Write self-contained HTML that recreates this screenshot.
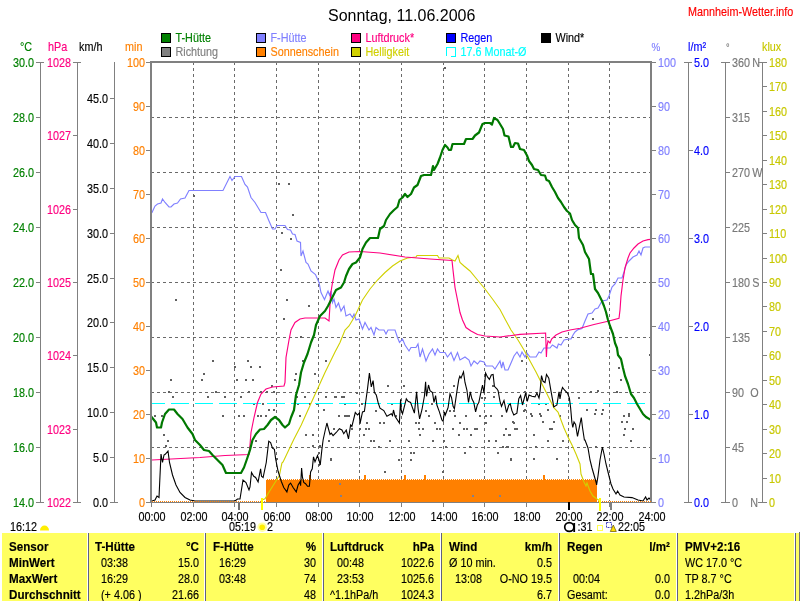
<!DOCTYPE html>
<html><head><meta charset="utf-8"><title>Sonntag, 11.06.2006</title>
<style>
html,body{margin:0;padding:0;background:#fff;}
body{width:800px;height:601px;overflow:hidden;font-family:"Liberation Sans",sans-serif;}
svg{display:block;position:absolute;left:0;top:0}
svg text{font-family:"Liberation Sans",sans-serif;font-size:12px;}
.b,.bx{font-weight:bold}
.ax{stroke:#808080;stroke-width:1;shape-rendering:crispEdges;fill:none}
.gr{stroke:#6a6a6a;stroke-width:1;stroke-dasharray:3 3;shape-rendering:crispEdges;fill:none}
.e{text-anchor:end}.m{text-anchor:middle}
</style></head><body>
<svg width="800" height="601" viewBox="0 0 800 601">
<rect width="800" height="601" fill="#fff"/>
<text transform="translate(328 20.5) scale(1.0 1)" stroke="#000" stroke-width="0" style="font-size:16px" fill="#000">Sonntag, 11.06.2006</text>
<text transform="translate(688 16) scale(0.9 1)" stroke="#f00" stroke-width="0.15" fill="#f00">Mannheim-Wetter.info</text>
<rect x="161.5" y="33.5" width="9" height="9" fill="#008000" stroke="#000" stroke-width="1" shape-rendering="crispEdges"/>
<text transform="translate(175.5 42) scale(0.9 1)" stroke="#008000" stroke-width="0.15" fill="#008000">T-Hütte</text>
<rect x="161.5" y="47.5" width="9" height="9" fill="#808080" stroke="#000" stroke-width="1" shape-rendering="crispEdges"/>
<text transform="translate(175.5 56) scale(0.9 1)" stroke="#808080" stroke-width="0.15" fill="#808080">Richtung</text>
<rect x="256.5" y="33.5" width="9" height="9" fill="#8080ff" stroke="#000" stroke-width="1" shape-rendering="crispEdges"/>
<text transform="translate(270.5 42) scale(0.9 1)" stroke="#8080ff" stroke-width="0.15" fill="#8080ff">F-Hütte</text>
<rect x="256.5" y="47.5" width="9" height="9" fill="#ff8000" stroke="#000" stroke-width="1" shape-rendering="crispEdges"/>
<text transform="translate(270.5 56) scale(0.9 1)" stroke="#ff8000" stroke-width="0.15" fill="#ff8000">Sonnenschein</text>
<rect x="351.5" y="33.5" width="9" height="9" fill="#ff0080" stroke="#000" stroke-width="1" shape-rendering="crispEdges"/>
<text transform="translate(365.5 42) scale(0.9 1)" stroke="#ff0080" stroke-width="0.15" fill="#ff0080">Luftdruck*</text>
<rect x="351.5" y="47.5" width="9" height="9" fill="#d0d000" stroke="#000" stroke-width="1" shape-rendering="crispEdges"/>
<text transform="translate(365.5 56) scale(0.9 1)" stroke="#d0d000" stroke-width="0.15" fill="#d0d000">Helligkeit</text>
<rect x="446.5" y="33.5" width="9" height="9" fill="#0000ff" stroke="#000" stroke-width="1" shape-rendering="crispEdges"/>
<text transform="translate(460.5 42) scale(0.9 1)" stroke="#0000ff" stroke-width="0.15" fill="#0000ff">Regen</text>
<path d="M446.5,56 V47.5 H455.5 V56.5 H451" fill="none" stroke="#00ffff" stroke-width="1" shape-rendering="crispEdges"/>
<text transform="translate(460.5 56) scale(0.9 1)" stroke="#00ffff" stroke-width="0.15" fill="#00ffff">17.6 Monat-Ø</text>
<rect x="541.5" y="33.5" width="9" height="9" fill="#000000" stroke="#000" stroke-width="1" shape-rendering="crispEdges"/>
<text transform="translate(555.5 42) scale(0.9 1)" stroke="#000000" stroke-width="0.15" fill="#000000">Wind*</text>
<text transform="translate(20 51) scale(0.9 1)" stroke="#008000" stroke-width="0.15" fill="#008000">°C</text>
<text transform="translate(48 51) scale(0.9 1)" stroke="#ff0080" stroke-width="0.15" fill="#ff0080">hPa</text>
<text transform="translate(79 51) scale(0.9 1)" stroke="#000" stroke-width="0.15" fill="#000">km/h</text>
<text transform="translate(125 51) scale(0.9 1)" stroke="#ff8000" stroke-width="0.15" fill="#ff8000">min</text>
<text transform="translate(651.5 51) scale(0.9 1)" stroke="#8080ff" stroke-width="0.15" fill="#8080ff" style="font-size:11px">%</text>
<text transform="translate(688 51) scale(0.9 1)" stroke="#0000ff" stroke-width="0.15" fill="#0000ff">l/m²</text>
<text transform="translate(726 51) scale(0.9 1)" stroke="#808080" stroke-width="0.15" fill="#808080" style="font-size:10px">°</text>
<text transform="translate(762 51) scale(0.9 1)" stroke="#c8c800" stroke-width="0.15" fill="#c8c800">klux</text>
<line class="gr" x1="193.5" y1="62" x2="193.5" y2="501"/>
<line class="gr" x1="234.5" y1="62" x2="234.5" y2="501"/>
<line class="gr" x1="276.5" y1="62" x2="276.5" y2="501"/>
<line class="gr" x1="318.5" y1="62" x2="318.5" y2="501"/>
<line class="gr" x1="359.5" y1="62" x2="359.5" y2="501"/>
<line class="gr" x1="401.5" y1="62" x2="401.5" y2="501"/>
<line class="gr" x1="443.5" y1="62" x2="443.5" y2="501"/>
<line class="gr" x1="484.5" y1="62" x2="484.5" y2="501"/>
<line class="gr" x1="526.5" y1="62" x2="526.5" y2="501"/>
<line class="gr" x1="568.5" y1="62" x2="568.5" y2="501"/>
<line class="gr" x1="609.5" y1="62" x2="609.5" y2="501"/>
<line class="gr" x1="151" y1="117.5" x2="651" y2="117.5"/>
<line class="gr" x1="151" y1="172.5" x2="651" y2="172.5"/>
<line class="gr" x1="151" y1="227.5" x2="651" y2="227.5"/>
<line class="gr" x1="151" y1="282.5" x2="651" y2="282.5"/>
<line class="gr" x1="151" y1="337.5" x2="651" y2="337.5"/>
<line class="gr" x1="151" y1="392.5" x2="651" y2="392.5"/>
<line class="gr" x1="151" y1="447.5" x2="651" y2="447.5"/>
<polygon points="266,502 266,480 267,480 267,479 268,479 268,480 269,480 269,479 270,479 270,480 271,480 271,479 272,479 272,480 273,480 273,479 274,479 274,480 275,480 275,479 276,479 276,480 277,480 277,479 278,479 278,480 279,480 279,479 280,479 280,480 281,480 281,479 282,479 282,480 283,480 283,479 284,479 284,480 285,480 285,479 286,479 286,480 287,480 287,479 288,479 288,480 289,480 289,479 290,479 290,480 291,480 291,479 292,479 292,480 293,480 293,479 294,479 294,480 295,480 295,479 296,479 296,480 297,480 297,479 298,479 298,480 299,480 299,479 300,479 300,480 301,480 301,479 302,479 302,480 303,480 303,479 304,479 304,480 305,480 305,479 306,479 306,480 307,480 307,479 308,479 308,480 309,480 309,475 310,475 310,475 311,475 311,479 312,479 312,480 313,480 313,479 314,479 314,480 315,480 315,479 316,479 316,480 317,480 317,479 318,479 318,480 319,480 319,479 320,479 320,480 321,480 321,479 322,479 322,480 323,480 323,479 324,479 324,480 325,480 325,479 326,479 326,480 327,480 327,479 328,479 328,480 329,480 329,479 330,479 330,480 331,480 331,479 332,479 332,480 333,480 333,479 334,479 334,480 335,480 335,479 336,479 336,480 337,480 337,479 338,479 338,480 339,480 339,479 340,479 340,480 341,480 341,479 342,479 342,480 343,480 343,479 344,479 344,480 345,480 345,479 346,479 346,480 347,480 347,479 348,479 348,480 349,480 349,479 350,479 350,480 351,480 351,479 352,479 352,480 353,480 353,479 354,479 354,480 355,480 355,479 356,479 356,480 357,480 357,479 358,479 358,480 359,480 359,479 360,479 360,480 361,480 361,479 362,479 362,480 363,480 363,479 364,479 364,475 365,475 365,475 366,475 366,480 367,480 367,479 368,479 368,480 369,480 369,479 370,479 370,480 371,480 371,479 372,479 372,480 373,480 373,479 374,479 374,480 375,480 375,479 376,479 376,480 377,480 377,479 378,479 378,480 379,480 379,479 380,479 380,480 381,480 381,479 382,479 382,480 383,480 383,479 384,479 384,480 385,480 385,479 386,479 386,480 387,480 387,479 388,479 388,480 389,480 389,479 390,479 390,480 391,480 391,479 392,479 392,480 393,480 393,479 394,479 394,480 395,480 395,479 396,479 396,480 397,480 397,479 398,479 398,480 399,480 399,479 400,479 400,480 401,480 401,479 402,479 402,480 403,480 403,479 404,479 404,475 405,475 405,475 406,475 406,480 407,480 407,479 408,479 408,480 409,480 409,479 410,479 410,480 411,480 411,479 412,479 412,480 413,480 413,479 414,479 414,480 415,480 415,479 416,479 416,480 417,480 417,479 418,479 418,480 419,480 419,479 420,479 420,480 421,480 421,479 422,479 422,480 423,480 423,479 424,479 424,475 425,475 425,475 426,475 426,480 427,480 427,479 428,479 428,480 429,480 429,479 430,479 430,480 431,480 431,479 432,479 432,480 433,480 433,479 434,479 434,480 435,480 435,479 436,479 436,480 437,480 437,479 438,479 438,480 439,480 439,479 440,479 440,480 441,480 441,479 442,479 442,480 443,480 443,479 444,479 444,480 445,480 445,479 446,479 446,480 447,480 447,479 448,479 448,480 449,480 449,479 450,479 450,480 451,480 451,479 452,479 452,480 453,480 453,479 454,479 454,480 455,480 455,479 456,479 456,480 457,480 457,479 458,479 458,480 459,480 459,479 460,479 460,480 461,480 461,479 462,479 462,480 463,480 463,479 464,479 464,480 465,480 465,479 466,479 466,480 467,480 467,479 468,479 468,480 469,480 469,479 470,479 470,480 471,480 471,479 472,479 472,480 473,480 473,479 474,479 474,480 475,480 475,479 476,479 476,480 477,480 477,479 478,479 478,480 479,480 479,479 480,479 480,480 481,480 481,479 482,479 482,480 483,480 483,479 484,479 484,480 485,480 485,479 486,479 486,480 487,480 487,479 488,479 488,480 489,480 489,479 490,479 490,480 491,480 491,479 492,479 492,480 493,480 493,479 494,479 494,480 495,480 495,479 496,479 496,480 497,480 497,479 498,479 498,480 499,480 499,479 500,479 500,480 501,480 501,479 502,479 502,480 503,480 503,479 504,479 504,480 505,480 505,479 506,479 506,480 507,480 507,479 508,479 508,480 509,480 509,479 510,479 510,480 511,480 511,479 512,479 512,480 513,480 513,479 514,479 514,480 515,480 515,479 516,479 516,480 517,480 517,479 518,479 518,480 519,480 519,479 520,479 520,480 521,480 521,479 522,479 522,480 523,480 523,479 524,479 524,480 525,480 525,479 526,479 526,480 527,480 527,479 528,479 528,480 529,480 529,479 530,479 530,480 531,480 531,479 532,479 532,480 533,480 533,479 534,479 534,480 535,480 535,479 536,479 536,480 537,480 537,479 538,479 538,480 539,480 539,479 540,479 540,480 541,480 541,479 542,479 542,480 543,480 543,475 544,475 544,475 545,475 545,479 546,479 546,480 547,480 547,479 548,479 548,480 549,480 549,479 550,479 550,480 551,480 551,479 552,479 552,480 553,480 553,479 554,479 554,480 555,480 555,479 556,479 556,480 557,480 557,479 558,479 558,480 559,480 559,479 560,479 560,480 561,480 561,479 562,479 562,480 563,480 563,479 564,479 564,480 565,480 565,479 566,479 566,480 567,480 567,479 568,479 568,480 569,480 569,479 570,479 570,480 571,480 571,479 572,479 572,480 573,480 573,479 574,479 574,480 575,480 575,479 576,479 576,480 577,480 577,479 578,479 578,480 579,480 579,479 580,479 580,480 581,480 581,479 582,479 582,480 583,480 583,479 584,479 584,480 585,480 585,479 586,479 586,480 587,480 587,479 588,479 588,480 589,480 589,479 590,479 590,480 591,480 591,479 592,479 592,480 593,480 593,479 594,479 594,480 595,480 595,479 596,479 596,480 597,480 597,502" fill="#ff8000" shape-rendering="crispEdges"/>
<rect x="193" y="195" width="2" height="2" fill="#606060"/>
<rect x="278" y="183" width="2" height="2" fill="#606060"/>
<rect x="288" y="183" width="2" height="2" fill="#606060"/>
<rect x="292" y="214" width="2" height="2" fill="#606060"/>
<rect x="281" y="232" width="2" height="2" fill="#606060"/>
<rect x="290" y="238" width="2" height="2" fill="#606060"/>
<rect x="280" y="269" width="2" height="2" fill="#606060"/>
<rect x="175" y="299" width="2" height="2" fill="#606060"/>
<rect x="286" y="299" width="2" height="2" fill="#606060"/>
<rect x="308" y="305" width="2" height="2" fill="#606060"/>
<rect x="283" y="318" width="2" height="2" fill="#606060"/>
<rect x="300" y="336" width="2" height="2" fill="#606060"/>
<rect x="212" y="360" width="2" height="2" fill="#606060"/>
<rect x="247" y="360" width="2" height="2" fill="#606060"/>
<rect x="302" y="360" width="2" height="2" fill="#606060"/>
<rect x="325" y="360" width="2" height="2" fill="#606060"/>
<rect x="250" y="366" width="2" height="2" fill="#606060"/>
<rect x="259" y="366" width="2" height="2" fill="#606060"/>
<rect x="234" y="366" width="2" height="2" fill="#606060"/>
<rect x="203" y="373" width="2" height="2" fill="#606060"/>
<rect x="295" y="373" width="2" height="2" fill="#606060"/>
<rect x="314" y="373" width="2" height="2" fill="#606060"/>
<rect x="170" y="379" width="2" height="2" fill="#606060"/>
<rect x="201" y="379" width="2" height="2" fill="#606060"/>
<rect x="236" y="379" width="2" height="2" fill="#606060"/>
<rect x="245" y="379" width="2" height="2" fill="#606060"/>
<rect x="252" y="379" width="2" height="2" fill="#606060"/>
<rect x="294" y="379" width="2" height="2" fill="#606060"/>
<rect x="172" y="396" width="2" height="2" fill="#606060"/>
<rect x="207" y="396" width="2" height="2" fill="#606060"/>
<rect x="224" y="396" width="2" height="2" fill="#606060"/>
<rect x="240" y="396" width="2" height="2" fill="#606060"/>
<rect x="296" y="396" width="2" height="2" fill="#606060"/>
<rect x="304" y="396" width="2" height="2" fill="#606060"/>
<rect x="325" y="396" width="2" height="2" fill="#606060"/>
<rect x="335" y="396" width="2" height="2" fill="#606060"/>
<rect x="343" y="396" width="2" height="2" fill="#606060"/>
<rect x="268" y="409" width="2" height="2" fill="#606060"/>
<rect x="273" y="409" width="2" height="2" fill="#606060"/>
<rect x="323" y="409" width="2" height="2" fill="#606060"/>
<rect x="154" y="415" width="2" height="2" fill="#606060"/>
<rect x="161" y="415" width="2" height="2" fill="#606060"/>
<rect x="222" y="415" width="2" height="2" fill="#606060"/>
<rect x="238" y="415" width="2" height="2" fill="#606060"/>
<rect x="243" y="415" width="2" height="2" fill="#606060"/>
<rect x="260" y="415" width="2" height="2" fill="#606060"/>
<rect x="265" y="415" width="2" height="2" fill="#606060"/>
<rect x="299" y="415" width="2" height="2" fill="#606060"/>
<rect x="338" y="415" width="2" height="2" fill="#606060"/>
<rect x="344" y="415" width="2" height="2" fill="#606060"/>
<rect x="163" y="434" width="2" height="2" fill="#606060"/>
<rect x="305" y="434" width="2" height="2" fill="#606060"/>
<rect x="312" y="434" width="2" height="2" fill="#606060"/>
<rect x="328" y="440" width="2" height="2" fill="#606060"/>
<rect x="255" y="440" width="2" height="2" fill="#606060"/>
<rect x="165" y="445" width="2" height="2" fill="#606060"/>
<rect x="312" y="445" width="2" height="2" fill="#606060"/>
<rect x="319" y="445" width="2" height="2" fill="#606060"/>
<rect x="444" y="67" width="2" height="2" fill="#606060"/>
<rect x="592" y="318" width="2" height="2" fill="#606060"/>
<rect x="521" y="360" width="2" height="2" fill="#606060"/>
<rect x="618" y="367" width="2" height="2" fill="#606060"/>
<rect x="620" y="379" width="2" height="2" fill="#606060"/>
<rect x="649" y="354" width="2" height="2" fill="#606060"/>
<rect x="597" y="390" width="2" height="2" fill="#606060"/>
<rect x="616" y="391" width="2" height="2" fill="#606060"/>
<rect x="578" y="397" width="2" height="2" fill="#606060"/>
<rect x="538" y="403" width="2" height="2" fill="#606060"/>
<rect x="545" y="403" width="2" height="2" fill="#606060"/>
<rect x="590" y="391" width="2" height="2" fill="#606060"/>
<rect x="387" y="385" width="2" height="2" fill="#606060"/>
<rect x="403" y="385" width="2" height="2" fill="#606060"/>
<rect x="453" y="385" width="2" height="2" fill="#606060"/>
<rect x="524" y="391" width="2" height="2" fill="#606060"/>
<rect x="334" y="396" width="2" height="2" fill="#606060"/>
<rect x="341" y="396" width="2" height="2" fill="#606060"/>
<rect x="493" y="396" width="2" height="2" fill="#606060"/>
<rect x="356" y="392" width="2" height="2" fill="#606060"/>
<rect x="375" y="410" width="2" height="2" fill="#606060"/>
<rect x="425" y="410" width="2" height="2" fill="#606060"/>
<rect x="449" y="410" width="2" height="2" fill="#606060"/>
<rect x="453" y="410" width="2" height="2" fill="#606060"/>
<rect x="523" y="410" width="2" height="2" fill="#606060"/>
<rect x="338" y="415" width="2" height="2" fill="#606060"/>
<rect x="345" y="415" width="2" height="2" fill="#606060"/>
<rect x="348" y="415" width="2" height="2" fill="#606060"/>
<rect x="428" y="415" width="2" height="2" fill="#606060"/>
<rect x="454" y="415" width="2" height="2" fill="#606060"/>
<rect x="465" y="415" width="2" height="2" fill="#606060"/>
<rect x="479" y="415" width="2" height="2" fill="#606060"/>
<rect x="485" y="415" width="2" height="2" fill="#606060"/>
<rect x="366" y="422" width="2" height="2" fill="#606060"/>
<rect x="379" y="422" width="2" height="2" fill="#606060"/>
<rect x="383" y="422" width="2" height="2" fill="#606060"/>
<rect x="415" y="422" width="2" height="2" fill="#606060"/>
<rect x="418" y="422" width="2" height="2" fill="#606060"/>
<rect x="459" y="422" width="2" height="2" fill="#606060"/>
<rect x="513" y="422" width="2" height="2" fill="#606060"/>
<rect x="365" y="428" width="2" height="2" fill="#606060"/>
<rect x="368" y="428" width="2" height="2" fill="#606060"/>
<rect x="418" y="428" width="2" height="2" fill="#606060"/>
<rect x="422" y="428" width="2" height="2" fill="#606060"/>
<rect x="436" y="428" width="2" height="2" fill="#606060"/>
<rect x="439" y="428" width="2" height="2" fill="#606060"/>
<rect x="452" y="428" width="2" height="2" fill="#606060"/>
<rect x="463" y="428" width="2" height="2" fill="#606060"/>
<rect x="466" y="428" width="2" height="2" fill="#606060"/>
<rect x="474" y="428" width="2" height="2" fill="#606060"/>
<rect x="476" y="428" width="2" height="2" fill="#606060"/>
<rect x="505" y="428" width="2" height="2" fill="#606060"/>
<rect x="514" y="428" width="2" height="2" fill="#606060"/>
<rect x="516" y="428" width="2" height="2" fill="#606060"/>
<rect x="363" y="434" width="2" height="2" fill="#606060"/>
<rect x="419" y="434" width="2" height="2" fill="#606060"/>
<rect x="458" y="434" width="2" height="2" fill="#606060"/>
<rect x="470" y="434" width="2" height="2" fill="#606060"/>
<rect x="503" y="434" width="2" height="2" fill="#606060"/>
<rect x="509" y="434" width="2" height="2" fill="#606060"/>
<rect x="370" y="440" width="2" height="2" fill="#606060"/>
<rect x="373" y="440" width="2" height="2" fill="#606060"/>
<rect x="389" y="440" width="2" height="2" fill="#606060"/>
<rect x="408" y="440" width="2" height="2" fill="#606060"/>
<rect x="432" y="440" width="2" height="2" fill="#606060"/>
<rect x="443" y="440" width="2" height="2" fill="#606060"/>
<rect x="488" y="440" width="2" height="2" fill="#606060"/>
<rect x="495" y="440" width="2" height="2" fill="#606060"/>
<rect x="378" y="446" width="2" height="2" fill="#606060"/>
<rect x="445" y="446" width="2" height="2" fill="#606060"/>
<rect x="469" y="446" width="2" height="2" fill="#606060"/>
<rect x="502" y="446" width="2" height="2" fill="#606060"/>
<rect x="506" y="446" width="2" height="2" fill="#606060"/>
<rect x="410" y="452" width="2" height="2" fill="#606060"/>
<rect x="413" y="452" width="2" height="2" fill="#606060"/>
<rect x="464" y="452" width="2" height="2" fill="#606060"/>
<rect x="497" y="452" width="2" height="2" fill="#606060"/>
<rect x="330" y="459" width="2" height="2" fill="#606060"/>
<rect x="398" y="459" width="2" height="2" fill="#606060"/>
<rect x="410" y="459" width="2" height="2" fill="#606060"/>
<rect x="510" y="459" width="2" height="2" fill="#606060"/>
<rect x="384" y="471" width="2" height="2" fill="#606060"/>
<rect x="442" y="471" width="2" height="2" fill="#606060"/>
<rect x="530" y="413" width="2" height="2" fill="#606060"/>
<rect x="539" y="413" width="2" height="2" fill="#606060"/>
<rect x="594" y="413" width="2" height="2" fill="#606060"/>
<rect x="601" y="413" width="2" height="2" fill="#606060"/>
<rect x="628" y="413" width="2" height="2" fill="#606060"/>
<rect x="512" y="421" width="2" height="2" fill="#606060"/>
<rect x="542" y="421" width="2" height="2" fill="#606060"/>
<rect x="553" y="421" width="2" height="2" fill="#606060"/>
<rect x="621" y="421" width="2" height="2" fill="#606060"/>
<rect x="626" y="421" width="2" height="2" fill="#606060"/>
<rect x="505" y="428" width="2" height="2" fill="#606060"/>
<rect x="514" y="428" width="2" height="2" fill="#606060"/>
<rect x="516" y="428" width="2" height="2" fill="#606060"/>
<rect x="549" y="428" width="2" height="2" fill="#606060"/>
<rect x="551" y="428" width="2" height="2" fill="#606060"/>
<rect x="624" y="428" width="2" height="2" fill="#606060"/>
<rect x="632" y="428" width="2" height="2" fill="#606060"/>
<rect x="503" y="434" width="2" height="2" fill="#606060"/>
<rect x="508" y="434" width="2" height="2" fill="#606060"/>
<rect x="533" y="434" width="2" height="2" fill="#606060"/>
<rect x="623" y="434" width="2" height="2" fill="#606060"/>
<rect x="547" y="440" width="2" height="2" fill="#606060"/>
<rect x="562" y="440" width="2" height="2" fill="#606060"/>
<rect x="630" y="440" width="2" height="2" fill="#606060"/>
<rect x="507" y="446" width="2" height="2" fill="#606060"/>
<rect x="535" y="446" width="2" height="2" fill="#606060"/>
<rect x="595" y="446" width="2" height="2" fill="#606060"/>
<rect x="510" y="458" width="2" height="2" fill="#606060"/>
<rect x="533" y="458" width="2" height="2" fill="#606060"/>
<rect x="556" y="458" width="2" height="2" fill="#606060"/>
<rect x="524" y="409" width="2" height="2" fill="#606060"/>
<rect x="547" y="409" width="2" height="2" fill="#606060"/>
<rect x="586" y="409" width="2" height="2" fill="#606060"/>
<rect x="595" y="409" width="2" height="2" fill="#606060"/>
<rect x="602" y="409" width="2" height="2" fill="#606060"/>
<rect x="501" y="415" width="2" height="2" fill="#606060"/>
<rect x="531" y="415" width="2" height="2" fill="#606060"/>
<rect x="540" y="415" width="2" height="2" fill="#606060"/>
<rect x="559" y="415" width="2" height="2" fill="#606060"/>
<rect x="623" y="415" width="2" height="2" fill="#606060"/>
<rect x="628" y="415" width="2" height="2" fill="#606060"/>
<rect x="492" y="385" width="2" height="2" fill="#606060"/>
<rect x="481" y="397" width="2" height="2" fill="#606060"/>
<rect x="484" y="397" width="2" height="2" fill="#606060"/>
<rect x="431" y="403" width="2" height="2" fill="#606060"/>
<rect x="434" y="422" width="2" height="2" fill="#606060"/>
<rect x="485" y="422" width="2" height="2" fill="#606060"/>
<rect x="490" y="415" width="2" height="2" fill="#606060"/>
<rect x="344" y="403" width="2" height="2" fill="#606060"/>
<rect x="361" y="403" width="2" height="2" fill="#606060"/>
<rect x="391" y="403" width="2" height="2" fill="#606060"/>
<rect x="333" y="428" width="2" height="2" fill="#606060"/>
<rect x="351" y="428" width="2" height="2" fill="#606060"/>
<rect x="359" y="428" width="2" height="2" fill="#606060"/>
<rect x="395" y="415" width="2" height="2" fill="#606060"/>
<rect x="168" y="391" width="2" height="2" fill="#606060"/>
<rect x="215" y="391" width="2" height="2" fill="#606060"/>
<rect x="248" y="391" width="2" height="2" fill="#606060"/>
<rect x="271" y="385" width="2" height="2" fill="#606060"/>
<rect x="260" y="391" width="2" height="2" fill="#606060"/>
<rect x="266" y="391" width="2" height="2" fill="#606060"/>
<rect x="273" y="391" width="2" height="2" fill="#606060"/>
<rect x="253" y="403" width="2" height="2" fill="#606060"/>
<rect x="262" y="403" width="2" height="2" fill="#606060"/>
<rect x="297" y="403" width="2" height="2" fill="#606060"/>
<rect x="309" y="403" width="2" height="2" fill="#606060"/>
<rect x="316" y="403" width="2" height="2" fill="#606060"/>
<rect x="257" y="415" width="2" height="2" fill="#606060"/>
<rect x="347" y="415" width="2" height="2" fill="#606060"/>
<rect x="167" y="440" width="2" height="2" fill="#606060"/>
<rect x="333" y="428" width="2" height="2" fill="#606060"/>
<rect x="318" y="452" width="2" height="2" fill="#606060"/>
<rect x="276" y="458" width="2" height="2" fill="#606060"/>
<rect x="330" y="458" width="2" height="2" fill="#606060"/>
<rect x="318" y="464" width="2" height="2" fill="#606060"/>
<rect x="339" y="483" width="2" height="2" fill="#808090"/>
<rect x="340" y="495" width="2" height="2" fill="#808090"/>
<rect x="472" y="495" width="2" height="2" fill="#808090"/>
<rect x="499" y="495" width="2" height="2" fill="#808090"/>
<line x1="147" y1="403.5" x2="651" y2="403.5" stroke="#00ffff" stroke-width="1" stroke-dasharray="18 6" shape-rendering="crispEdges" clip-path="url(#cp)"/>
<clipPath id="cp"><rect x="152" y="62" width="499" height="441"/></clipPath>
<polyline points="151,213 152,212.5 155,206 157.5,204 161,203 162.5,199 165,202.5 169,207 171,207 174,204 177.5,203 180.5,199 185,198 189,190.5 223,190.5 230,176.5 232,180.5 235,176.5 241.5,176.5 245,184.5 247.5,187 251,197.5 255,202.5 261,212.5 265.5,212.5 269,221 272.5,229 275,229 277,225.5 285,225.5 287.5,229.5 290.5,230 292.5,234 295,234.5 297,241 300.5,242.5 301,256 303,251 306,262.5 308,264 311,271 315.5,274.5 319,282.5 321,292.5 324.5,299.5 328,291 329.5,295 331,291 332.5,302.5 334,299 336,307.5 338.5,303 341,311 344,306 346,316 350,314 352.5,317.5 354,314 356,320 359,319 362.5,329 365,322.5 369,330 371,327.5 374,335 376,327.5 379,330 384,330 386,334 388,330 395,330 397.5,337.5 399.5,342.5 402.5,339 405,345 409,351 411,347.5 416,347.5 418,344 420,357 422.5,349 426,361 429,354 432.5,349 435,355 437.5,349 440,352.5 445,352.5 447.5,357 451,352.5 454,360.5 457.5,352.5 460,360 465,357 469,360 471,366 474,361 477.5,364 480,361 484,362 486,366 492.5,366 495,369 497.5,365 500,361 501.6,368 503,362 505,370 508,370 511,363 514,356 517,352 520,357 522,352 525,357 527,353 530,357 536,357 539,352 541,353 544,348 550,348 552.4,345 554,346 557,348 558.4,344 561,345 564,340 569,339 571,339 573,335 575,332 578,329.6 582,328.5 585,321 588,314 592,313 595,309 598,308 602,301 607,300 609,296 612,287 615,284 618,278 622,278 624,272 626,265 629,261 633,257 637,255 639,251 641,255 643,248 645,247 651,247" fill="none" stroke="#8080ff" stroke-width="1.15"/>
<polyline points="261,501 261.9,500 265,498.75 270,490.5 275,482.5 279.4,475.6 281.9,463.1 283.1,461.9 288.75,450 293.75,439.4 301.25,425 312.5,400 325,372.5 335,352 340,342.5 345,330 349,326 355,316 362.5,300 370,289 377.5,280 385,272.5 392.5,266 400,261 407.5,258 416,257 417,255.5 437.5,255.5 439,258 449,258 452.5,260 455,261 458,255.5 460,262.5 464,266 470,271 477.5,280 485,289 492.5,299 500,309.5 505,319 511,330 518,340 524,350 530,361 536,372 542,384 548,396 554,408 558,412 564,428 568,437 572,445 576,454 580,464 581,474 584,482 586,486 587,483 590,491 593,496 597,499 600,501" fill="none" stroke="#d0d000" stroke-width="1.1"/>
<polyline points="151,460 152,460 200,457.5 225,455.5 249,454.5 250,445 251,432.5 252.5,425 254,417.5 257.5,402.5 261,394 266,389 272.5,387 284,386 285,382.5 286,357.5 289,340 291,330 295,322.5 300,319 305,318 325,318 329,321 330,305 330.5,295 332.5,282.5 335,270 339,260 342.5,255 349,252 360,251.5 380,253 405,257 430,259 452,260.5 453,270 455,287.5 457.5,300 460,312.5 462.5,320 466,327.5 471,331 477.5,334.5 485,336 500,337 520,334.4 545.6,333 546.4,357 547,346 548,341 550,343 551.6,339 556,335 562,332 570,330 580,328.2 594,324.5 608,321.3 619,318.4 620,310 621,296 623,280 625,268 628,258 630,253 634,248 638,244 643,241 648,239.6 651,239.4" fill="none" stroke="#ff0080" stroke-width="1.15"/>
<polyline points="151,501 152,501 155,500 157,496 159,497.5 161,454 162.5,462.5 164,455 165.5,454 168,451 169.5,462.5 172.5,475 176,485 180,492.5 185,497.5 190,500 195,501 235,501 237.5,499 240,499 243,480 246,482.5 249,490 250,487 251.5,472.5 253.75,476.25 255.6,477.5 258.1,481.9 260.6,468.75 261.5,476.25 263.1,477.5 266.25,462.5 268.75,441.25 270.6,442.5 272.5,448.1 274.4,449.4 275.6,458.75 278.1,471.25 281.25,481.25 283.75,487.5 286.9,491.9 288.75,485 290.6,483.1 293.1,487.5 296.25,491.9 298.1,485 300,481.9 300.6,485.6 301.6,468.1 302.5,477.5 303.75,482.5 305.6,483.75 307.5,486.25 309.4,486.25 310.6,471.9 312.25,468.75 313.5,456.9 315,461.9 317.5,455.6 319,460 320.25,465 321.9,449.4 323.1,440 325,431.25 326.9,423 328.1,427.5 330,434.4 331.25,433.1 333.1,435.6 336.25,432.5 339.4,428.75 341.9,430 343.75,433.75 346.25,430 348.5,438.8 350.6,425 351.9,426.3 355.3,412.5 357.5,415 359.4,413.1 360,423.8 362.5,411.9 364.4,411.3 366.3,397.5 367.5,388.8 369.4,373.1 371.3,386.9 373.1,380.6 374.4,392.5 376.3,395 378.1,402.5 380,408.1 383.8,410.6 386.9,416.3 391.3,413.8 392.5,415.6 393.5,410 395,416.3 399.4,423.1 400.6,399.4 401.2,410 402.5,413.8 406.3,398.8 408.1,401.3 410.6,402.5 414.4,413.1 416.6,391.9 418.1,408.8 419.6,418.8 421.9,410 424.4,396.3 425.6,381.9 426.5,396.3 428.5,385 430,390.6 432.5,392.5 434,402.5 435.6,395.6 436.9,405 439.4,411.9 441.9,420 443.1,421.3 444.4,411.9 445.3,415 448.1,407.5 450,393.8 451.5,397.5 453.1,406.3 454.4,408.8 456.9,391.3 458.8,379.4 459.8,376.3 461,378.1 463.5,371.9 465,382.5 466.9,390 468.5,402.5 470.3,391.9 471.9,398.8 473.8,402.5 475.6,411.9 477.3,405 478.8,402.5 480.6,393.8 482.5,385 484,393.1 485.6,373.1 487.5,376.9 489.4,379.4 491.3,375 493.1,374.4 494.4,386.3 496.9,388.8 498.1,390.6 500,401.3 501.5,406.3 504,400.6 506.5,412.5 508.8,405 510.3,403.8 511.9,410.6 513.8,415 516.9,413.1 518.8,398.8 520.6,395.6 522.5,405 525.6,393.1 527.3,401.3 529,395 531.9,396.3 535,396.9 536.9,393.1 539,398.1 540,391.9 541.5,375.6 543.1,381.3 545,382.5 546.5,374.4 548.8,378.1 550.6,388.8 552.5,399.4 553.8,406.9 556.9,405 559,391.9 560,398.8 561.3,391.3 562.5,387.5 564.4,390 567.5,393.1 569.4,398.1 570.6,407.5 571.9,422.5 572.8,427.5 574,421.9 575.6,424.4 577.5,436.3 580,423.8 581.3,417.5 582.5,427.5 584.4,440 585,440 588,448 590,460 592,468 594,475 596,482 596.6,485 598,476 600,460 602.4,447 604,454 606,464 609,476 611,484 613,489 616,494 617.6,491 620,495 624,497 632,497.6 638,500 643,501 645.6,497 647,500 649,498 651,500" fill="none" stroke="#000" stroke-width="1.1"/>
<polyline points="151,416 152,417.5 156,422.5 157,427.5 161,427.5 162,422.5 165,414 169,409.5 174,409.5 177.5,414 182.5,419 187.5,427.5 192.5,434 195,440 200,445 204,450 209,451 212.5,455 217.5,460 222.5,465 226,473 241,473 244,467.5 247.5,457.5 250,450 252.5,440 256,434 260,429.5 264,429 267.5,425 271,420 275,417 279,420 282.5,425 285,427.5 289,424 291,417.5 294,410 296,395 299,385 301,372.5 304,362.5 307.5,354 311,342.5 314,335 316,325 320,316 325,311 328,306 331,300 334,294 336,290 341,287.5 344,282.5 346,276 349,269 352.5,264 356,262.5 360,257.5 362.5,249 366,242.5 370,238 378,238 380,229 384,226 386,220 390,214 394,210 397.5,207 399.5,200 402.5,197.5 405,194 407.5,197 411,194 414,187.5 417.5,185 421,176 424,175 431,175 433,166 434,170 437.5,164 440,157.5 442.5,150 445,145 447.5,147.5 449,150 451,150 452.5,144 464,144 466,139 472.5,139 475,135.5 479,132.5 482.5,124 485,123 490,123 492,124.5 494,118 497.5,120 500,124 503,129 504.5,135.5 508.5,136.5 511,147 513,147 515,143 518,143.5 520,149 524,150 527,155.5 529,161 532,165 534,169 538,170 541,175 545,175.5 546.5,180 549,181 552,187 555,192 558,198 561,202 564,207 567,211 570,213.5 572,220 575,225 578,228 579,238 583,245 585,252 589,259 591,274 593,274 595,289 598,293 602,301 604,306 606,312 608,320 610,326 613,334 615,343 617,348 618,355 621,359 623,368 625,376 628,384 631,394 634,398 637,404 640,409 643,414 646,417 650,419.4 651,420" fill="none" stroke="#007800" stroke-width="2.2" stroke-linejoin="round"/>
<rect x="150" y="61" width="2" height="441" fill="#808080"/>
<rect x="150" y="61" width="502" height="2" fill="#808080"/>
<rect x="650" y="61" width="2" height="442" fill="#808080"/>
<rect x="146" y="502" width="507" height="1" fill="#808080"/>
<line x1="152" y1="501.5" x2="651" y2="501.5" stroke="#ff8000" stroke-width="1" stroke-dasharray="1 1" shape-rendering="crispEdges"/>
<line class="ax" x1="40.5" y1="62" x2="40.5" y2="503"/>
<line class="ax" x1="36" y1="62.5" x2="44" y2="62.5"/>
<text transform="translate(34 67) scale(0.9 1)" stroke="#008000" stroke-width="0.15" class="e" fill="#008000">30.0</text>
<line class="ax" x1="36" y1="117.5" x2="40" y2="117.5"/>
<text transform="translate(34 122) scale(0.9 1)" stroke="#008000" stroke-width="0.15" class="e" fill="#008000">28.0</text>
<line class="ax" x1="36" y1="172.5" x2="40" y2="172.5"/>
<text transform="translate(34 177) scale(0.9 1)" stroke="#008000" stroke-width="0.15" class="e" fill="#008000">26.0</text>
<line class="ax" x1="36" y1="227.5" x2="40" y2="227.5"/>
<text transform="translate(34 232) scale(0.9 1)" stroke="#008000" stroke-width="0.15" class="e" fill="#008000">24.0</text>
<line class="ax" x1="36" y1="282.5" x2="40" y2="282.5"/>
<text transform="translate(34 287) scale(0.9 1)" stroke="#008000" stroke-width="0.15" class="e" fill="#008000">22.0</text>
<line class="ax" x1="36" y1="337.5" x2="40" y2="337.5"/>
<text transform="translate(34 342) scale(0.9 1)" stroke="#008000" stroke-width="0.15" class="e" fill="#008000">20.0</text>
<line class="ax" x1="36" y1="392.5" x2="40" y2="392.5"/>
<text transform="translate(34 397) scale(0.9 1)" stroke="#008000" stroke-width="0.15" class="e" fill="#008000">18.0</text>
<line class="ax" x1="36" y1="447.5" x2="40" y2="447.5"/>
<text transform="translate(34 452) scale(0.9 1)" stroke="#008000" stroke-width="0.15" class="e" fill="#008000">16.0</text>
<line class="ax" x1="36" y1="502.5" x2="44" y2="502.5"/>
<text transform="translate(34 507) scale(0.9 1)" stroke="#008000" stroke-width="0.15" class="e" fill="#008000">14.0</text>
<line class="ax" x1="77.5" y1="62" x2="77.5" y2="503"/>
<line class="ax" x1="73" y1="62.5" x2="81" y2="62.5"/>
<text transform="translate(71 67) scale(0.9 1)" stroke="#ff0080" stroke-width="0.15" class="e" fill="#ff0080">1028</text>
<line class="ax" x1="73" y1="135.5" x2="77" y2="135.5"/>
<text transform="translate(71 140) scale(0.9 1)" stroke="#ff0080" stroke-width="0.15" class="e" fill="#ff0080">1027</text>
<line class="ax" x1="73" y1="209.5" x2="77" y2="209.5"/>
<text transform="translate(71 214) scale(0.9 1)" stroke="#ff0080" stroke-width="0.15" class="e" fill="#ff0080">1026</text>
<line class="ax" x1="73" y1="282.5" x2="77" y2="282.5"/>
<text transform="translate(71 287) scale(0.9 1)" stroke="#ff0080" stroke-width="0.15" class="e" fill="#ff0080">1025</text>
<line class="ax" x1="73" y1="355.5" x2="77" y2="355.5"/>
<text transform="translate(71 360) scale(0.9 1)" stroke="#ff0080" stroke-width="0.15" class="e" fill="#ff0080">1024</text>
<line class="ax" x1="73" y1="429.5" x2="77" y2="429.5"/>
<text transform="translate(71 434) scale(0.9 1)" stroke="#ff0080" stroke-width="0.15" class="e" fill="#ff0080">1023</text>
<line class="ax" x1="73" y1="502.5" x2="81" y2="502.5"/>
<text transform="translate(71 507) scale(0.9 1)" stroke="#ff0080" stroke-width="0.15" class="e" fill="#ff0080">1022</text>
<line class="ax" x1="114.5" y1="62" x2="114.5" y2="503"/>
<line class="ax" x1="110" y1="98.5" x2="114" y2="98.5"/>
<text transform="translate(108 103) scale(0.9 1)" stroke="#000" stroke-width="0.15" class="e" fill="#000">45.0</text>
<line class="ax" x1="110" y1="143.5" x2="114" y2="143.5"/>
<text transform="translate(108 148) scale(0.9 1)" stroke="#000" stroke-width="0.15" class="e" fill="#000">40.0</text>
<line class="ax" x1="110" y1="188.5" x2="114" y2="188.5"/>
<text transform="translate(108 193) scale(0.9 1)" stroke="#000" stroke-width="0.15" class="e" fill="#000">35.0</text>
<line class="ax" x1="110" y1="233.5" x2="114" y2="233.5"/>
<text transform="translate(108 238) scale(0.9 1)" stroke="#000" stroke-width="0.15" class="e" fill="#000">30.0</text>
<line class="ax" x1="110" y1="278.5" x2="114" y2="278.5"/>
<text transform="translate(108 283) scale(0.9 1)" stroke="#000" stroke-width="0.15" class="e" fill="#000">25.0</text>
<line class="ax" x1="110" y1="322.5" x2="114" y2="322.5"/>
<text transform="translate(108 327) scale(0.9 1)" stroke="#000" stroke-width="0.15" class="e" fill="#000">20.0</text>
<line class="ax" x1="110" y1="367.5" x2="114" y2="367.5"/>
<text transform="translate(108 372) scale(0.9 1)" stroke="#000" stroke-width="0.15" class="e" fill="#000">15.0</text>
<line class="ax" x1="110" y1="412.5" x2="114" y2="412.5"/>
<text transform="translate(108 417) scale(0.9 1)" stroke="#000" stroke-width="0.15" class="e" fill="#000">10.0</text>
<line class="ax" x1="110" y1="457.5" x2="114" y2="457.5"/>
<text transform="translate(108 462) scale(0.9 1)" stroke="#000" stroke-width="0.15" class="e" fill="#000">5.0</text>
<line class="ax" x1="110" y1="502.5" x2="118" y2="502.5"/>
<text transform="translate(108 507) scale(0.9 1)" stroke="#000" stroke-width="0.15" class="e" fill="#000">0.0</text>
<line class="ax" x1="146" y1="62.5" x2="150" y2="62.5"/>
<text transform="translate(145 67) scale(0.9 1)" stroke="#ff8000" stroke-width="0.15" class="e" fill="#ff8000">100</text>
<line class="ax" x1="652" y1="62.5" x2="656" y2="62.5"/>
<text transform="translate(658 67) scale(0.9 1)" stroke="#8080ff" stroke-width="0.15" fill="#8080ff">100</text>
<line class="ax" x1="146" y1="106.5" x2="150" y2="106.5"/>
<text transform="translate(145 111) scale(0.9 1)" stroke="#ff8000" stroke-width="0.15" class="e" fill="#ff8000">90</text>
<line class="ax" x1="652" y1="106.5" x2="656" y2="106.5"/>
<text transform="translate(658 111) scale(0.9 1)" stroke="#8080ff" stroke-width="0.15" fill="#8080ff">90</text>
<line class="ax" x1="146" y1="150.5" x2="150" y2="150.5"/>
<text transform="translate(145 155) scale(0.9 1)" stroke="#ff8000" stroke-width="0.15" class="e" fill="#ff8000">80</text>
<line class="ax" x1="652" y1="150.5" x2="656" y2="150.5"/>
<text transform="translate(658 155) scale(0.9 1)" stroke="#8080ff" stroke-width="0.15" fill="#8080ff">80</text>
<line class="ax" x1="146" y1="194.5" x2="150" y2="194.5"/>
<text transform="translate(145 199) scale(0.9 1)" stroke="#ff8000" stroke-width="0.15" class="e" fill="#ff8000">70</text>
<line class="ax" x1="652" y1="194.5" x2="656" y2="194.5"/>
<text transform="translate(658 199) scale(0.9 1)" stroke="#8080ff" stroke-width="0.15" fill="#8080ff">70</text>
<line class="ax" x1="146" y1="238.5" x2="150" y2="238.5"/>
<text transform="translate(145 243) scale(0.9 1)" stroke="#ff8000" stroke-width="0.15" class="e" fill="#ff8000">60</text>
<line class="ax" x1="652" y1="238.5" x2="656" y2="238.5"/>
<text transform="translate(658 243) scale(0.9 1)" stroke="#8080ff" stroke-width="0.15" fill="#8080ff">60</text>
<line class="ax" x1="146" y1="282.5" x2="150" y2="282.5"/>
<text transform="translate(145 287) scale(0.9 1)" stroke="#ff8000" stroke-width="0.15" class="e" fill="#ff8000">50</text>
<line class="ax" x1="652" y1="282.5" x2="656" y2="282.5"/>
<text transform="translate(658 287) scale(0.9 1)" stroke="#8080ff" stroke-width="0.15" fill="#8080ff">50</text>
<line class="ax" x1="146" y1="326.5" x2="150" y2="326.5"/>
<text transform="translate(145 331) scale(0.9 1)" stroke="#ff8000" stroke-width="0.15" class="e" fill="#ff8000">40</text>
<line class="ax" x1="652" y1="326.5" x2="656" y2="326.5"/>
<text transform="translate(658 331) scale(0.9 1)" stroke="#8080ff" stroke-width="0.15" fill="#8080ff">40</text>
<line class="ax" x1="146" y1="370.5" x2="150" y2="370.5"/>
<text transform="translate(145 375) scale(0.9 1)" stroke="#ff8000" stroke-width="0.15" class="e" fill="#ff8000">30</text>
<line class="ax" x1="652" y1="370.5" x2="656" y2="370.5"/>
<text transform="translate(658 375) scale(0.9 1)" stroke="#8080ff" stroke-width="0.15" fill="#8080ff">30</text>
<line class="ax" x1="146" y1="414.5" x2="150" y2="414.5"/>
<text transform="translate(145 419) scale(0.9 1)" stroke="#ff8000" stroke-width="0.15" class="e" fill="#ff8000">20</text>
<line class="ax" x1="652" y1="414.5" x2="656" y2="414.5"/>
<text transform="translate(658 419) scale(0.9 1)" stroke="#8080ff" stroke-width="0.15" fill="#8080ff">20</text>
<line class="ax" x1="146" y1="458.5" x2="150" y2="458.5"/>
<text transform="translate(145 463) scale(0.9 1)" stroke="#ff8000" stroke-width="0.15" class="e" fill="#ff8000">10</text>
<line class="ax" x1="652" y1="458.5" x2="656" y2="458.5"/>
<text transform="translate(658 463) scale(0.9 1)" stroke="#8080ff" stroke-width="0.15" fill="#8080ff">10</text>
<line class="ax" x1="146" y1="502.5" x2="150" y2="502.5"/>
<text transform="translate(145 507) scale(0.9 1)" stroke="#ff8000" stroke-width="0.15" class="e" fill="#ff8000">0</text>
<line class="ax" x1="652" y1="502.5" x2="656" y2="502.5"/>
<text transform="translate(658 507) scale(0.9 1)" stroke="#8080ff" stroke-width="0.15" fill="#8080ff">0</text>
<line class="ax" x1="688.5" y1="62" x2="688.5" y2="503"/>
<line class="ax" x1="684" y1="62.5" x2="692" y2="62.5"/>
<text transform="translate(694 67) scale(0.9 1)" stroke="#0000ff" stroke-width="0.15" class="" fill="#0000ff">5.0</text>
<line class="ax" x1="689" y1="150.5" x2="693" y2="150.5"/>
<text transform="translate(694 155) scale(0.9 1)" stroke="#0000ff" stroke-width="0.15" class="" fill="#0000ff">4.0</text>
<line class="ax" x1="689" y1="238.5" x2="693" y2="238.5"/>
<text transform="translate(694 243) scale(0.9 1)" stroke="#0000ff" stroke-width="0.15" class="" fill="#0000ff">3.0</text>
<line class="ax" x1="689" y1="326.5" x2="693" y2="326.5"/>
<text transform="translate(694 331) scale(0.9 1)" stroke="#0000ff" stroke-width="0.15" class="" fill="#0000ff">2.0</text>
<line class="ax" x1="689" y1="414.5" x2="693" y2="414.5"/>
<text transform="translate(694 419) scale(0.9 1)" stroke="#0000ff" stroke-width="0.15" class="" fill="#0000ff">1.0</text>
<line class="ax" x1="684" y1="502.5" x2="692" y2="502.5"/>
<text transform="translate(694 507) scale(0.9 1)" stroke="#0000ff" stroke-width="0.15" class="" fill="#0000ff">0.0</text>
<line class="ax" x1="725.5" y1="62" x2="725.5" y2="503"/>
<line class="ax" x1="721" y1="62.5" x2="730" y2="62.5"/>
<text transform="translate(732 67) scale(0.9 1)" stroke="#787878" stroke-width="0.15" fill="#787878">360</text>
<text transform="translate(752.3 67) scale(0.9 1)" stroke="#787878" stroke-width="0.15" fill="#787878">N</text>
<line class="ax" x1="726" y1="117.5" x2="730" y2="117.5"/>
<text transform="translate(732 122) scale(0.9 1)" stroke="#787878" stroke-width="0.15" fill="#787878">315</text>
<line class="ax" x1="726" y1="172.5" x2="730" y2="172.5"/>
<text transform="translate(732 177) scale(0.9 1)" stroke="#787878" stroke-width="0.15" fill="#787878">270</text>
<text transform="translate(752.3 177) scale(0.9 1)" stroke="#787878" stroke-width="0.15" fill="#787878">W</text>
<line class="ax" x1="726" y1="227.5" x2="730" y2="227.5"/>
<text transform="translate(732 232) scale(0.9 1)" stroke="#787878" stroke-width="0.15" fill="#787878">225</text>
<line class="ax" x1="726" y1="282.5" x2="730" y2="282.5"/>
<text transform="translate(732 287) scale(0.9 1)" stroke="#787878" stroke-width="0.15" fill="#787878">180</text>
<text transform="translate(752.3 287) scale(0.9 1)" stroke="#787878" stroke-width="0.15" fill="#787878">S</text>
<line class="ax" x1="726" y1="337.5" x2="730" y2="337.5"/>
<text transform="translate(732 342) scale(0.9 1)" stroke="#787878" stroke-width="0.15" fill="#787878">135</text>
<line class="ax" x1="726" y1="392.5" x2="730" y2="392.5"/>
<text transform="translate(732 397) scale(0.9 1)" stroke="#787878" stroke-width="0.15" fill="#787878">90</text>
<text transform="translate(750.3 397) scale(0.9 1)" stroke="#787878" stroke-width="0.15" fill="#787878">O</text>
<line class="ax" x1="726" y1="447.5" x2="730" y2="447.5"/>
<text transform="translate(732 452) scale(0.9 1)" stroke="#787878" stroke-width="0.15" fill="#787878">45</text>
<line class="ax" x1="721" y1="502.5" x2="730" y2="502.5"/>
<text transform="translate(732 507) scale(0.9 1)" stroke="#787878" stroke-width="0.15" fill="#787878">0</text>
<text transform="translate(750.3 507) scale(0.9 1)" stroke="#787878" stroke-width="0.15" fill="#787878">N</text>
<line class="ax" x1="762.5" y1="62" x2="762.5" y2="503"/>
<line class="ax" x1="758" y1="62.5" x2="767" y2="62.5"/>
<text transform="translate(769 67) scale(0.9 1)" stroke="#c8c800" stroke-width="0.15" fill="#c8c800">180</text>
<line class="ax" x1="763" y1="86.5" x2="767" y2="86.5"/>
<text transform="translate(769 91) scale(0.9 1)" stroke="#c8c800" stroke-width="0.15" fill="#c8c800">170</text>
<line class="ax" x1="763" y1="111.5" x2="767" y2="111.5"/>
<text transform="translate(769 116) scale(0.9 1)" stroke="#c8c800" stroke-width="0.15" fill="#c8c800">160</text>
<line class="ax" x1="763" y1="135.5" x2="767" y2="135.5"/>
<text transform="translate(769 140) scale(0.9 1)" stroke="#c8c800" stroke-width="0.15" fill="#c8c800">150</text>
<line class="ax" x1="763" y1="160.5" x2="767" y2="160.5"/>
<text transform="translate(769 165) scale(0.9 1)" stroke="#c8c800" stroke-width="0.15" fill="#c8c800">140</text>
<line class="ax" x1="763" y1="184.5" x2="767" y2="184.5"/>
<text transform="translate(769 189) scale(0.9 1)" stroke="#c8c800" stroke-width="0.15" fill="#c8c800">130</text>
<line class="ax" x1="763" y1="209.5" x2="767" y2="209.5"/>
<text transform="translate(769 214) scale(0.9 1)" stroke="#c8c800" stroke-width="0.15" fill="#c8c800">120</text>
<line class="ax" x1="763" y1="233.5" x2="767" y2="233.5"/>
<text transform="translate(769 238) scale(0.9 1)" stroke="#c8c800" stroke-width="0.15" fill="#c8c800">110</text>
<line class="ax" x1="763" y1="258.5" x2="767" y2="258.5"/>
<text transform="translate(769 263) scale(0.9 1)" stroke="#c8c800" stroke-width="0.15" fill="#c8c800">100</text>
<line class="ax" x1="763" y1="282.5" x2="767" y2="282.5"/>
<text transform="translate(769 287) scale(0.9 1)" stroke="#c8c800" stroke-width="0.15" fill="#c8c800">90</text>
<line class="ax" x1="763" y1="306.5" x2="767" y2="306.5"/>
<text transform="translate(769 311) scale(0.9 1)" stroke="#c8c800" stroke-width="0.15" fill="#c8c800">80</text>
<line class="ax" x1="763" y1="331.5" x2="767" y2="331.5"/>
<text transform="translate(769 336) scale(0.9 1)" stroke="#c8c800" stroke-width="0.15" fill="#c8c800">70</text>
<line class="ax" x1="763" y1="355.5" x2="767" y2="355.5"/>
<text transform="translate(769 360) scale(0.9 1)" stroke="#c8c800" stroke-width="0.15" fill="#c8c800">60</text>
<line class="ax" x1="763" y1="380.5" x2="767" y2="380.5"/>
<text transform="translate(769 385) scale(0.9 1)" stroke="#c8c800" stroke-width="0.15" fill="#c8c800">50</text>
<line class="ax" x1="763" y1="404.5" x2="767" y2="404.5"/>
<text transform="translate(769 409) scale(0.9 1)" stroke="#c8c800" stroke-width="0.15" fill="#c8c800">40</text>
<line class="ax" x1="763" y1="429.5" x2="767" y2="429.5"/>
<text transform="translate(769 434) scale(0.9 1)" stroke="#c8c800" stroke-width="0.15" fill="#c8c800">30</text>
<line class="ax" x1="763" y1="453.5" x2="767" y2="453.5"/>
<text transform="translate(769 458) scale(0.9 1)" stroke="#c8c800" stroke-width="0.15" fill="#c8c800">20</text>
<line class="ax" x1="763" y1="478.5" x2="767" y2="478.5"/>
<text transform="translate(769 483) scale(0.9 1)" stroke="#c8c800" stroke-width="0.15" fill="#c8c800">10</text>
<line class="ax" x1="758" y1="502.5" x2="767" y2="502.5"/>
<text transform="translate(769 507) scale(0.9 1)" stroke="#c8c800" stroke-width="0.15" fill="#c8c800">0</text>
<line class="ax" x1="151.5" y1="502" x2="151.5" y2="507"/>
<text transform="translate(152 521) scale(0.9 1)" stroke="#000" stroke-width="0.15" class="m" fill="#000">00:00</text>
<line class="ax" x1="193.5" y1="502" x2="193.5" y2="507"/>
<text transform="translate(194 521) scale(0.9 1)" stroke="#000" stroke-width="0.15" class="m" fill="#000">02:00</text>
<line class="ax" x1="234.5" y1="502" x2="234.5" y2="507"/>
<text transform="translate(235 521) scale(0.9 1)" stroke="#000" stroke-width="0.15" class="m" fill="#000">04:00</text>
<line class="ax" x1="276.5" y1="502" x2="276.5" y2="507"/>
<text transform="translate(277 521) scale(0.9 1)" stroke="#000" stroke-width="0.15" class="m" fill="#000">06:00</text>
<line class="ax" x1="318.5" y1="502" x2="318.5" y2="507"/>
<text transform="translate(319 521) scale(0.9 1)" stroke="#000" stroke-width="0.15" class="m" fill="#000">08:00</text>
<line class="ax" x1="359.5" y1="502" x2="359.5" y2="507"/>
<text transform="translate(360 521) scale(0.9 1)" stroke="#000" stroke-width="0.15" class="m" fill="#000">10:00</text>
<line class="ax" x1="401.5" y1="502" x2="401.5" y2="507"/>
<text transform="translate(402 521) scale(0.9 1)" stroke="#000" stroke-width="0.15" class="m" fill="#000">12:00</text>
<line class="ax" x1="443.5" y1="502" x2="443.5" y2="507"/>
<text transform="translate(444 521) scale(0.9 1)" stroke="#000" stroke-width="0.15" class="m" fill="#000">14:00</text>
<line class="ax" x1="484.5" y1="502" x2="484.5" y2="507"/>
<text transform="translate(485 521) scale(0.9 1)" stroke="#000" stroke-width="0.15" class="m" fill="#000">16:00</text>
<line class="ax" x1="526.5" y1="502" x2="526.5" y2="507"/>
<text transform="translate(527 521) scale(0.9 1)" stroke="#000" stroke-width="0.15" class="m" fill="#000">18:00</text>
<line class="ax" x1="568.5" y1="502" x2="568.5" y2="507"/>
<text transform="translate(569 521) scale(0.9 1)" stroke="#000" stroke-width="0.15" class="m" fill="#000">20:00</text>
<line class="ax" x1="609.5" y1="502" x2="609.5" y2="507"/>
<text transform="translate(610 521) scale(0.9 1)" stroke="#000" stroke-width="0.15" class="m" fill="#000">22:00</text>
<text transform="translate(652 521) scale(0.9 1)" stroke="#000" stroke-width="0.15" class="m" fill="#000">24:00</text>
<rect x="238" y="503" width="2" height="7" fill="#707070"/>
<rect x="568" y="502" width="2" height="8" fill="#000"/>
<rect x="610" y="502" width="2" height="8" fill="#808080"/>
<rect x="261" y="498" width="2" height="12" fill="#ffff00"/>
<rect x="599" y="498" width="2" height="13" fill="#ffff00"/>
<text transform="translate(10 531) scale(0.9 1)" stroke="#000" stroke-width="0.15" fill="#000">16:12</text>
<path d="M40,530.5 a4.5,5 0 0 1 9,0 z" fill="#ffee00"/>
<text transform="translate(229 531) scale(0.9 1)" stroke="#000" stroke-width="0.15" fill="#000">05:19</text>
<circle cx="262.2" cy="527.2" r="4.8" fill="#ffffa0"/><circle cx="262.2" cy="527.2" r="2.8" fill="#ffee00"/>
<text transform="translate(267 531) scale(0.9 1)" stroke="#000" stroke-width="0.15" fill="#000">2</text>
<text transform="translate(577.5 531) scale(0.9 1)" stroke="#000" stroke-width="0.15" fill="#000">:31</text>
<ellipse cx="569.3" cy="527" rx="4.6" ry="4.4" fill="none" stroke="#000" stroke-width="1.7"/><path d="M574.2,523 V532" fill="none" stroke="#000" stroke-width="1.8"/>
<rect x="597.5" y="525.5" width="5" height="5" fill="none" stroke="#ffff50" stroke-width="1"/>
<rect x="606.5" y="522.5" width="5" height="5" fill="none" stroke="#4040c0" stroke-width="1" stroke-dasharray="2 1"/>
<path d="M613.3,525 L616.3,531.5 H610.3 Z" fill="#ffe000" stroke="#605000" stroke-width="0.7"/>
<text transform="translate(618 531) scale(0.9 1)" stroke="#000" stroke-width="0.15" fill="#000">22:05</text>
<rect x="2" y="533" width="798" height="68" fill="#ffff60"/>
<rect x="799" y="532" width="1" height="69" fill="#707078"/>
<rect x="87" y="533" width="1" height="68" fill="#fff"/><rect x="88" y="533" width="1" height="68" fill="#606080"/>
<rect x="204" y="533" width="1" height="68" fill="#fff"/><rect x="205" y="533" width="1" height="68" fill="#606080"/>
<rect x="322" y="533" width="1" height="68" fill="#fff"/><rect x="323" y="533" width="1" height="68" fill="#606080"/>
<rect x="440" y="533" width="1" height="68" fill="#fff"/><rect x="441" y="533" width="1" height="68" fill="#606080"/>
<rect x="558" y="533" width="1" height="68" fill="#fff"/><rect x="559" y="533" width="1" height="68" fill="#606080"/>
<rect x="676" y="533" width="1" height="68" fill="#fff"/><rect x="677" y="533" width="1" height="68" fill="#606080"/>
<rect x="794" y="533" width="1" height="68" fill="#fff"/><rect x="795" y="533" width="1" height="68" fill="#606080"/>
<text transform="translate(9 551) scale(0.97 1)" stroke="#000" stroke-width="0.15" class="b" fill="#000">Sensor</text>
<text transform="translate(9 567) scale(0.97 1)" stroke="#000" stroke-width="0.15" class="b" fill="#000">MinWert</text>
<text transform="translate(9 583) scale(0.97 1)" stroke="#000" stroke-width="0.15" class="b" fill="#000">MaxWert</text>
<text transform="translate(9 598.5) scale(0.97 1)" stroke="#000" stroke-width="0.15" class="b" fill="#000">Durchschnitt</text>
<text transform="translate(95 551) scale(0.97 1)" stroke="#000" stroke-width="0.15" class="b" fill="#000">T-Hütte</text>
<text transform="translate(199 551) scale(0.97 1)" stroke="#000" stroke-width="0.15" class="b e" fill="#000">°C</text>
<text transform="translate(101 567) scale(0.9 1)" stroke="#000" stroke-width="0.15" class="" fill="#000">03:38</text>
<text transform="translate(199 567) scale(0.9 1)" stroke="#000" stroke-width="0.15" class="e" fill="#000">15.0</text>
<text transform="translate(101 583) scale(0.9 1)" stroke="#000" stroke-width="0.15" class="" fill="#000">16:29</text>
<text transform="translate(199 583) scale(0.9 1)" stroke="#000" stroke-width="0.15" class="e" fill="#000">28.0</text>
<text transform="translate(101 598.5) scale(0.9 1)" stroke="#000" stroke-width="0.15" class="" fill="#000">(+ 4.06 )</text>
<text transform="translate(199 598.5) scale(0.9 1)" stroke="#000" stroke-width="0.15" class="e" fill="#000">21.66</text>
<text transform="translate(213 551) scale(0.97 1)" stroke="#000" stroke-width="0.15" class="b" fill="#000">F-Hütte</text>
<text transform="translate(316 551) scale(0.97 1)" stroke="#000" stroke-width="0.15" class="b e" fill="#000">%</text>
<text transform="translate(219 567) scale(0.9 1)" stroke="#000" stroke-width="0.15" class="" fill="#000">16:29</text>
<text transform="translate(316 567) scale(0.9 1)" stroke="#000" stroke-width="0.15" class="e" fill="#000">30</text>
<text transform="translate(219 583) scale(0.9 1)" stroke="#000" stroke-width="0.15" class="" fill="#000">03:48</text>
<text transform="translate(316 583) scale(0.9 1)" stroke="#000" stroke-width="0.15" class="e" fill="#000">74</text>
<text transform="translate(316 598.5) scale(0.9 1)" stroke="#000" stroke-width="0.15" class="e" fill="#000">48</text>
<text transform="translate(330 551) scale(0.97 1)" stroke="#000" stroke-width="0.15" class="b" fill="#000">Luftdruck</text>
<text transform="translate(434 551) scale(0.97 1)" stroke="#000" stroke-width="0.15" class="b e" fill="#000">hPa</text>
<text transform="translate(337 567) scale(0.9 1)" stroke="#000" stroke-width="0.15" class="" fill="#000">00:48</text>
<text transform="translate(434 567) scale(0.9 1)" stroke="#000" stroke-width="0.15" class="e" fill="#000">1022.6</text>
<text transform="translate(337 583) scale(0.9 1)" stroke="#000" stroke-width="0.15" class="" fill="#000">23:53</text>
<text transform="translate(434 583) scale(0.9 1)" stroke="#000" stroke-width="0.15" class="e" fill="#000">1025.6</text>
<text transform="translate(330 598.5) scale(0.9 1)" stroke="#000" stroke-width="0.15" class="" fill="#000">^1.1hPa/h</text>
<text transform="translate(434 598.5) scale(0.9 1)" stroke="#000" stroke-width="0.15" class="e" fill="#000">1024.3</text>
<text transform="translate(449 551) scale(0.97 1)" stroke="#000" stroke-width="0.15" class="b" fill="#000">Wind</text>
<text transform="translate(552 551) scale(0.97 1)" stroke="#000" stroke-width="0.15" class="b e" fill="#000">km/h</text>
<text transform="translate(449 567) scale(0.9 1)" stroke="#000" stroke-width="0.15" class="" fill="#000">Ø 10 min.</text>
<text transform="translate(552 567) scale(0.9 1)" stroke="#000" stroke-width="0.15" class="e" fill="#000">0.5</text>
<text transform="translate(455 583) scale(0.9 1)" stroke="#000" stroke-width="0.15" class="" fill="#000">13:08</text>
<text transform="translate(552 583) scale(0.9 1)" stroke="#000" stroke-width="0.15" class="e" fill="#000">O-NO 19.5</text>
<text transform="translate(552 598.5) scale(0.9 1)" stroke="#000" stroke-width="0.15" class="e" fill="#000">6.7</text>
<text transform="translate(567 551) scale(0.97 1)" stroke="#000" stroke-width="0.15" class="b" fill="#000">Regen</text>
<text transform="translate(670 551) scale(0.97 1)" stroke="#000" stroke-width="0.15" class="b e" fill="#000">l/m²</text>
<text transform="translate(573 583) scale(0.9 1)" stroke="#000" stroke-width="0.15" class="" fill="#000">00:04</text>
<text transform="translate(670 583) scale(0.9 1)" stroke="#000" stroke-width="0.15" class="e" fill="#000">0.0</text>
<text transform="translate(567 598.5) scale(0.9 1)" stroke="#000" stroke-width="0.15" class="" fill="#000">Gesamt:</text>
<text transform="translate(670 598.5) scale(0.9 1)" stroke="#000" stroke-width="0.15" class="e" fill="#000">0.0</text>
<text transform="translate(685 551) scale(0.97 1)" stroke="#000" stroke-width="0.15" class="b" fill="#000">PMV+2:16</text>
<text transform="translate(685 567) scale(0.9 1)" stroke="#000" stroke-width="0.15" class="" fill="#000">WC 17.0 °C</text>
<text transform="translate(685 583) scale(0.9 1)" stroke="#000" stroke-width="0.15" class="" fill="#000">TP 8.7 °C</text>
<text transform="translate(685 598.5) scale(0.9 1)" stroke="#000" stroke-width="0.15" class="" fill="#000">1.2hPa/3h</text>
</svg></body></html>
